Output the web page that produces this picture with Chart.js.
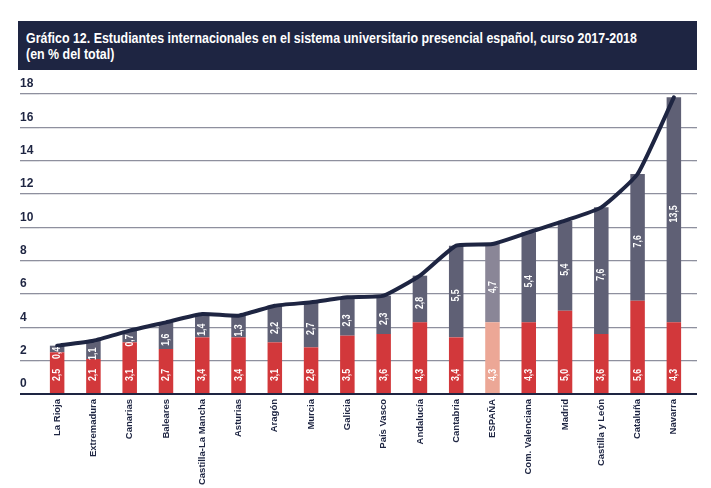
<!DOCTYPE html>
<html>
<head>
<meta charset="utf-8">
<script src="https://cdn.jsdelivr.net/npm/chart.js@4"></script>
<style>
  html, body { margin: 0; padding: 0; background: #fff; }
  #wrap { position: relative; width: 711px; height: 488px; }
  #title {
    position: absolute; left: 18px; top: 21px; width: 679px; height: 49px;
    background: #1e2542; color: #fff; overflow: hidden;
    font: bold 15px "Liberation Sans", Arial, sans-serif;
    line-height: 16px;
  }
  #title .txt {
    position: absolute; left: 8px; top: 9px; white-space: nowrap;
    transform-origin: 0 0;
  }
  canvas { position: absolute; left: 0; top: 0; }
</style>
</head>
<body>
<div id="wrap">
  <div id="title">
    <div class="txt" id="titleText">Gráfico 12. Estudiantes internacionales en el sistema universitario presencial español, curso 2017-2018<br>(en % del total)</div>
  </div>
  <canvas id="chart" width="711" height="488"></canvas>
</div>
<script>
const regions = ["La Rioja", "Extremadura", "Canarias", "Baleares", "Castilla-La Mancha", "Asturias",
  "Aragón", "Murcia", "Galicia", "País Vasco", "Andalucía", "Cantabria", "ESPAÑA",
  "Com. Valenciana", "Madrid", "Castilla y León", "Cataluña", "Navarra"];
const redValues = [2.5, 2.1, 3.1, 2.7, 3.4, 3.4, 3.1, 2.8, 3.5, 3.6, 4.3, 3.4, 4.3, 4.3, 5.0, 3.6, 5.6, 4.3];
const greyValues = [0.4, 1.1, 0.7, 1.6, 1.4, 1.3, 2.2, 2.7, 2.3, 2.3, 2.8, 5.5, 4.7, 5.4, 5.4, 7.6, 7.6, 13.5];
const totalValues = [2.9, 3.2, 3.8, 4.3, 4.8, 4.7, 5.3, 5.5, 5.8, 5.9, 7.1, 8.9, 9.0, 9.7, 10.4, 11.2, 13.2, 17.8];
const yTicks = [0, 2, 4, 6, 8, 10, 12, 14, 16, 18];

const NAVY = "#1e2542";
const RED = "#d2383b";
const GREY = "#5f6075";
const RED_LIGHT = "#eca796";
const GREY_LIGHT = "#8a8697";
const SANS = "'Liberation Sans', Arial, sans-serif";

// squeeze the title to the narrow width of the original condensed type
const titleEl = document.getElementById("titleText");
titleEl.style.transform = "scaleX(" + (611 / titleEl.scrollWidth).toFixed(3) + ")";

const isSpain = (i) => regions[i] === "ESPAÑA";
const fmt = (v) => v.toFixed(1).replace(".", ",");

// white vertical value labels inside the bars
const barLabels = {
    id: "barLabels",
    afterDatasetsDraw(chart) {
        const ctx = chart.ctx;
        const yScale = chart.scales.y;
        ctx.save();
        ctx.fillStyle = "#fff";
        ctx.font = "bold 11px " + SANS;
        ctx.textAlign = "center";
        ctx.textBaseline = "middle";
        [0, 1].forEach((di) => {
            const meta = chart.getDatasetMeta(di);
            const values = chart.data.datasets[di].data;
            meta.data.forEach((bar, i) => {
                let y;
                if (di === 0) {
                    y = yScale.getPixelForValue(0) - 19;
                } else {
                    y = (bar.y + bar.base) / 2 + 4;
                }
                ctx.save();
                ctx.translate(bar.x, y);
                ctx.rotate(-Math.PI / 2);
                ctx.scale(0.8, 1);
                ctx.fillText(fmt(values[i]), 0, 0);
                ctx.restore();
            });
        });
        ctx.restore();
    },
};

const gridColor = (c) => (c.tick && c.tick.value === 0 ? NAVY : "#8e909e");
const gridWidth = (c) => (c.tick && c.tick.value === 0 ? 2 : 1.3);

new Chart(document.getElementById("chart"), {
    data: {
        labels: regions,
        datasets: [
            {
                type: "bar",
                label: "red",
                data: redValues,
                backgroundColor: regions.map((r, i) => (isSpain(i) ? RED_LIGHT : RED)),
                stack: "bars",
                order: 2,
                barPercentage: 0.4,
                categoryPercentage: 1,
            },
            {
                type: "bar",
                label: "grey",
                data: greyValues,
                backgroundColor: regions.map((r, i) => (isSpain(i) ? GREY_LIGHT : GREY)),
                stack: "bars",
                order: 2,
                barPercentage: 0.4,
                categoryPercentage: 1,
            },
            {
                type: "line",
                label: "total",
                data: totalValues,
                stack: "total",
                order: 0,
                borderColor: NAVY,
                borderWidth: 4,
                pointRadius: 0,
                tension: 0.15,
                borderCapStyle: "round",
                borderJoinStyle: "round",
            },
        ],
    },
    options: {
        responsive: false,
        animation: false,
        layout: {
            padding: { left: 20, right: 14, top: 94, bottom: 0 },
        },
        plugins: {
            legend: { display: false },
            tooltip: { enabled: false },
        },
        scales: {
            x: {
                stacked: true,
                grid: { display: false, drawTicks: false },
                border: { display: false },
                ticks: {
                    color: NAVY,
                    font: { family: SANS, size: 9.5, weight: "bold" },
                    minRotation: 90,
                    maxRotation: 90,
                    autoSkip: false,
                    padding: 5,
                },
                afterFit: (scale) => {
                    scale.height = 94;
                },
            },
            y: {
                stacked: true,
                position: "left",
                min: 0,
                max: 18,
                afterBuildTicks: (scale) => {
                    scale.ticks = yTicks.map((v) => ({ value: v }));
                },
                afterFit: (scale) => {
                    scale.width = 19;
                },
                grid: {
                    color: gridColor,
                    lineWidth: gridWidth,
                    tickLength: 19,
                },
                border: { display: false },
                ticks: {
                    crossAlign: "far",
                    padding: 0,
                    labelOffset: -10,
                    color: NAVY,
                    font: { family: SANS, size: 12, weight: "bold" },
                },
            },
            y2: {
                position: "right",
                min: 0,
                max: 18,
                afterBuildTicks: (scale) => {
                    scale.ticks = yTicks.map((v) => ({ value: v }));
                },
                grid: {
                    color: gridColor,
                    lineWidth: gridWidth,
                    drawOnChartArea: false,
                    tickLength: 5,
                },
                border: { display: false },
                ticks: { display: false },
            },
        },
    },
    plugins: [barLabels],
});
</script>
</body>
</html>
